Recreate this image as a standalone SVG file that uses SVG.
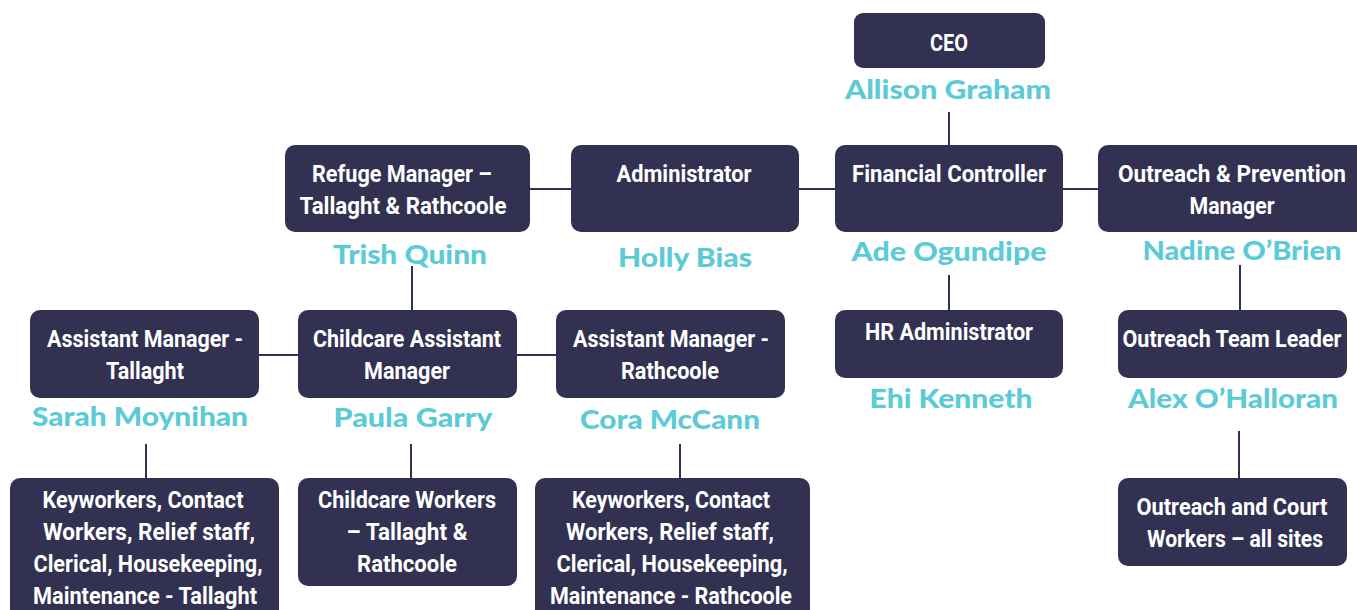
<svg xmlns="http://www.w3.org/2000/svg" width="1357" height="610" viewBox="0 0 1357 610">
<style>
.box{fill:#323152;}
.t{font-family:Roboto,"Liberation Sans",sans-serif;font-weight:bold;font-size:24px;fill:#ffffff;text-anchor:middle;}
.n{font-family:Lato,"Noto Sans","Liberation Sans",sans-serif;font-weight:900;font-size:26px;fill:#5ccbd6;text-anchor:middle;}
.c{stroke:#323152;stroke-width:2;fill:none;}
</style>
<rect width="1357" height="610" fill="#ffffff"/>
<g id="connectors">
<line class="c" x1="949" y1="112" x2="949" y2="146"/>
<line class="c" x1="530" y1="189" x2="1098" y2="189"/>
<line class="c" x1="412" y1="266" x2="412" y2="311"/>
<line class="c" x1="949" y1="275" x2="949" y2="311"/>
<line class="c" x1="1240" y1="265" x2="1240" y2="311"/>
<line class="c" x1="259" y1="355" x2="556" y2="355"/>
<line class="c" x1="146" y1="444" x2="146" y2="479"/>
<line class="c" x1="411" y1="444" x2="411" y2="479"/>
<line class="c" x1="680" y1="444" x2="680" y2="479"/>
<line class="c" x1="1239" y1="431" x2="1239" y2="479"/>
</g>
<g id="ceo">
<rect class="box" x="854" y="13" width="191" height="55" rx="9"/>
<text class="t" x="949" y="51" textLength="38" lengthAdjust="spacingAndGlyphs">CEO</text>
<text class="n" x="948" y="99" textLength="206" lengthAdjust="spacingAndGlyphs">Allison Graham</text>
</g>
<g id="refuge-manager">
<rect class="box" x="285" y="145" width="245" height="87" rx="10"/>
<text class="t" x="402" y="182" textLength="180" lengthAdjust="spacingAndGlyphs">Refuge Manager –</text>
<text class="t" x="403" y="214" textLength="207" lengthAdjust="spacingAndGlyphs">Tallaght &amp; Rathcoole</text>
<text class="n" x="410" y="264" textLength="154" lengthAdjust="spacingAndGlyphs">Trish Quinn</text>
</g>
<g id="administrator">
<rect class="box" x="571" y="145" width="228" height="87" rx="10"/>
<text class="t" x="684" y="182" textLength="135" lengthAdjust="spacingAndGlyphs">Administrator</text>
<text class="n" x="685" y="267" textLength="134" lengthAdjust="spacingAndGlyphs">Holly Bias</text>
</g>
<g id="financial-controller">
<rect class="box" x="835" y="145" width="228" height="87" rx="10"/>
<text class="t" x="949" y="182" textLength="194" lengthAdjust="spacingAndGlyphs">Financial Controller</text>
<text class="n" x="949" y="261" textLength="195" lengthAdjust="spacingAndGlyphs">Ade Ogundipe</text>
</g>
<g id="outreach-prevention-manager">
<rect class="box" x="1098" y="145" width="275" height="87" rx="10"/>
<text class="t" x="1232" y="182" textLength="228" lengthAdjust="spacingAndGlyphs">Outreach &amp; Prevention</text>
<text class="t" x="1232" y="214" textLength="85" lengthAdjust="spacingAndGlyphs">Manager</text>
<text class="n" x="1242" y="260" textLength="199" lengthAdjust="spacingAndGlyphs">Nadine O’Brien</text>
</g>
<g id="assistant-manager-tallaght">
<rect class="box" x="30" y="310" width="229" height="88" rx="10"/>
<text class="t" x="145" y="347" textLength="196" lengthAdjust="spacingAndGlyphs">Assistant Manager -</text>
<text class="t" x="145" y="379" textLength="78" lengthAdjust="spacingAndGlyphs">Tallaght</text>
<text class="n" x="140" y="426" textLength="216" lengthAdjust="spacingAndGlyphs">Sarah Moynihan</text>
</g>
<g id="childcare-assistant-manager">
<rect class="box" x="298" y="310" width="219" height="88" rx="10"/>
<text class="t" x="407" y="347" textLength="188" lengthAdjust="spacingAndGlyphs">Childcare Assistant</text>
<text class="t" x="407" y="379" textLength="86" lengthAdjust="spacingAndGlyphs">Manager</text>
<text class="n" x="413" y="427" textLength="159" lengthAdjust="spacingAndGlyphs">Paula Garry</text>
</g>
<g id="assistant-manager-rathcoole">
<rect class="box" x="556" y="310" width="229" height="88" rx="10"/>
<text class="t" x="671" y="347" textLength="196" lengthAdjust="spacingAndGlyphs">Assistant Manager -</text>
<text class="t" x="670" y="379" textLength="98" lengthAdjust="spacingAndGlyphs">Rathcoole</text>
<text class="n" x="670" y="429" textLength="180" lengthAdjust="spacingAndGlyphs">Cora McCann</text>
</g>
<g id="hr-administrator">
<rect class="box" x="835" y="310" width="228" height="68" rx="10"/>
<text class="t" x="949" y="340" textLength="168" lengthAdjust="spacingAndGlyphs">HR Administrator</text>
<text class="n" x="951" y="408" textLength="163" lengthAdjust="spacingAndGlyphs">Ehi Kenneth</text>
</g>
<g id="outreach-team-leader">
<rect class="box" x="1118" y="310" width="229" height="68" rx="10"/>
<text class="t" x="1232" y="347" textLength="219" lengthAdjust="spacingAndGlyphs">Outreach Team Leader</text>
<text class="n" x="1233" y="408" textLength="210" lengthAdjust="spacingAndGlyphs">Alex O’Halloran</text>
</g>
<g id="keyworkers-tallaght">
<rect class="box" x="10" y="478" width="269" height="150" rx="10"/>
<text class="t" x="143" y="508" textLength="201" lengthAdjust="spacingAndGlyphs">Keyworkers, Contact</text>
<text class="t" x="149" y="540" textLength="212" lengthAdjust="spacingAndGlyphs">Workers, Relief  staff,</text>
<text class="t" x="148" y="572" textLength="229" lengthAdjust="spacingAndGlyphs">Clerical, Housekeeping,</text>
<text class="t" x="145" y="604" textLength="224" lengthAdjust="spacingAndGlyphs">Maintenance - Tallaght</text>
</g>
<g id="childcare-workers">
<rect class="box" x="298" y="478" width="219" height="108" rx="10"/>
<text class="t" x="407" y="508" textLength="178" lengthAdjust="spacingAndGlyphs">Childcare Workers</text>
<text class="t" x="407" y="540" textLength="121" lengthAdjust="spacingAndGlyphs">– Tallaght &amp;</text>
<text class="t" x="407" y="572" textLength="100" lengthAdjust="spacingAndGlyphs">Rathcoole</text>
</g>
<g id="keyworkers-rathcoole">
<rect class="box" x="535" y="478" width="275" height="150" rx="10"/>
<text class="t" x="671" y="508" textLength="198" lengthAdjust="spacingAndGlyphs">Keyworkers, Contact</text>
<text class="t" x="670" y="540" textLength="208" lengthAdjust="spacingAndGlyphs">Workers, Relief  staff,</text>
<text class="t" x="672" y="572" textLength="231" lengthAdjust="spacingAndGlyphs">Clerical, Housekeeping,</text>
<text class="t" x="671" y="604" textLength="242" lengthAdjust="spacingAndGlyphs">Maintenance - Rathcoole</text>
</g>
<g id="outreach-court-workers">
<rect class="box" x="1118" y="478" width="229" height="88" rx="10"/>
<text class="t" x="1232" y="515" textLength="191" lengthAdjust="spacingAndGlyphs">Outreach and Court</text>
<text class="t" x="1235" y="547" textLength="176" lengthAdjust="spacingAndGlyphs">Workers – all sites</text>
</g>
</svg>
